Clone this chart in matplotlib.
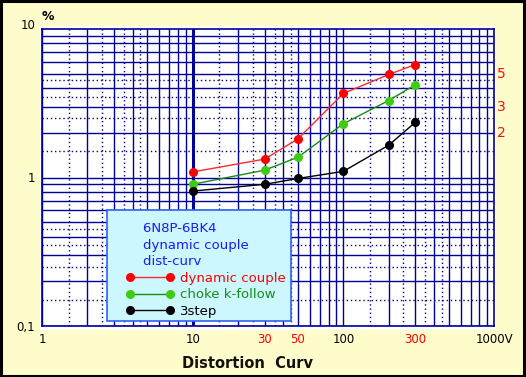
import numpy as np
import matplotlib
matplotlib.use("Agg")
import matplotlib.pyplot as plt
from matplotlib.patches import Rectangle
from matplotlib.transforms import blended_transform_factory

# output voltage (V) at the measured points
volts = [10, 30, 50, 100, 200, 300]

# distortion (%) per circuit
dyn_couple = [1.09, 1.33, 1.82, 3.68, 4.94, 5.76]
choke_follow = [0.90, 1.12, 1.37, 2.30, 3.30, 4.21]
three_step = [0.81, 0.90, 0.985, 1.10, 1.65, 2.35]

series_names = ["dynamic couple", "choke k-follow", "3step"]
legend_title = ["6N8P-6BK4", "dynamic couple", "dist-curv"]

xtick_vals = [1, 10, 30, 50, 100, 300, 1000]
xtick_text = ["1", "10", "30", "50", "100", "300", "1000V"]
xtick_red = [30, 50, 300]
ytick_vals = [0.1, 1, 10]
ytick_text = ["0,1", "1", "10"]
right_vals = [2, 3, 5]

bg = "#fffccc"
grid_c = "#000099"

fig = plt.figure(figsize=(5.26, 3.77), dpi=100, facecolor=bg)
W, H = 526.0, 377.0

# white paper behind the grid
fig.patches.append(Rectangle((40 / W, 1 - 330 / H), 456 / W, 304 / H,
                             transform=fig.transFigure, facecolor="white",
                             edgecolor="none", zorder=-5))
# frame round the whole picture
fig.patches.append(Rectangle((0.002, 0.003), 0.995, 0.994, transform=fig.transFigure,
                             facecolor="none", edgecolor="black", lw=2.2, zorder=10))

ax = fig.add_axes([42 / W, 1 - 326 / H, 452 / W, 297 / H])
ax.set_facecolor("white")
ax.set_xscale("log")
ax.set_yscale("log")
ax.set_xlim(1, 1000)
ax.set_ylim(0.1, 10)

# hand-drawn style grid: solid on integers, dotted on the halves
solid_subs = [2, 3, 4, 5, 6, 7, 8, 9]
dotted_subs = [1.5, 2.5, 3.5, 4.5]
for dec in [1, 10, 100]:
    ax.axvline(dec, color=grid_c, lw=2.2 if dec == 10 else 1.0, zorder=1)
    for s in solid_subs:
        ax.axvline(dec * s, color=grid_c, lw=1.0, zorder=1)
    for s in dotted_subs:
        ax.axvline(dec * s, color=grid_c, lw=1.0, ls=(0, (1, 2)), zorder=1)
for dec in [0.1, 1]:
    ax.axhline(dec, color=grid_c, lw=1.0, zorder=1)
    for s in solid_subs:
        ax.axhline(dec * s, color=grid_c, lw=1.0, zorder=1)
    for s in dotted_subs:
        ax.axhline(dec * s, color=grid_c, lw=1.0, ls=(0, (1, 2)), zorder=1)

for sp in ax.spines.values():
    sp.set_color(grid_c)
    sp.set_linewidth(1.2)

ax.plot(volts, dyn_couple, "-o", color="#ff2a2a", mfc="#ff0000", mec="#ff0000",
        ms=5.5, lw=1.0, label=series_names[0], zorder=3)
ax.plot(volts, choke_follow, "-o", color="#168c16", mfc="#3dcc12", mec="#3dcc12",
        ms=5.5, lw=1.0, label=series_names[1], zorder=3)
ax.plot(volts, three_step, "-o", color="black", mfc="black", mec="black",
        ms=5.5, lw=1.0, label=series_names[2], zorder=3)

ax.minorticks_off()
ax.set_xticks(xtick_vals)
ax.set_xticklabels(xtick_text, fontsize=8.5)
ax.set_yticks(ytick_vals)
ax.set_yticklabels(ytick_text, fontsize=8.5)
ax.tick_params(length=0)
ax.tick_params(axis="x", pad=5)
ax.tick_params(axis="y", pad=5)
for val, lab in zip(xtick_vals, ax.get_xticklabels()):
    lab.set_color("#ff0000" if val in xtick_red else "black")
ax.get_yticklabels()[2].set_va("baseline")

ax.text(0.0, 1.02, "%", transform=ax.transAxes, fontsize=9, fontweight="bold",
        ha="left", va="bottom")

tr = blended_transform_factory(ax.transAxes, ax.transData)
for v in right_vals:
    ax.text(1.006, v, str(v), transform=tr, color="#ff1010", fontsize=10,
            ha="left", va="center")

fig.text(248 / W, 1 - 363 / H, "Distortion  Curv", fontsize=10.5, fontweight="bold",
         ha="center", va="center", color="#111111")

# legend box drawn by hand, legend itself without frame
fig.patches.append(Rectangle((107 / W, 1 - 321 / H), 184 / W, 111 / H,
                             transform=fig.transFigure, facecolor="#ccf7ff",
                             edgecolor="#3060ff", lw=1.2, zorder=4))

handles, labels = ax.get_legend_handles_labels()
title = "\n".join("    " + t for t in legend_title)
leg = fig.legend(handles, labels, title=title, loc="upper left", frameon=False,
                 bbox_to_anchor=(126 / W, 1 - 222 / H),
                 borderaxespad=0, borderpad=0, numpoints=2, fontsize=9.5,
                 title_fontsize=9.5, handlelength=3.6, handletextpad=0.5,
                 labelspacing=0.28,
                 labelcolor=["#ff0000", "#168c16", "black"])
leg.get_title().set_color("#1a1aff")
leg.get_title().set_linespacing(1.35)
leg.get_title().set_multialignment("left")
leg._legend_box.align = "left"
leg.set_zorder(5)

fig.savefig("out.png", dpi=100, facecolor=bg)
